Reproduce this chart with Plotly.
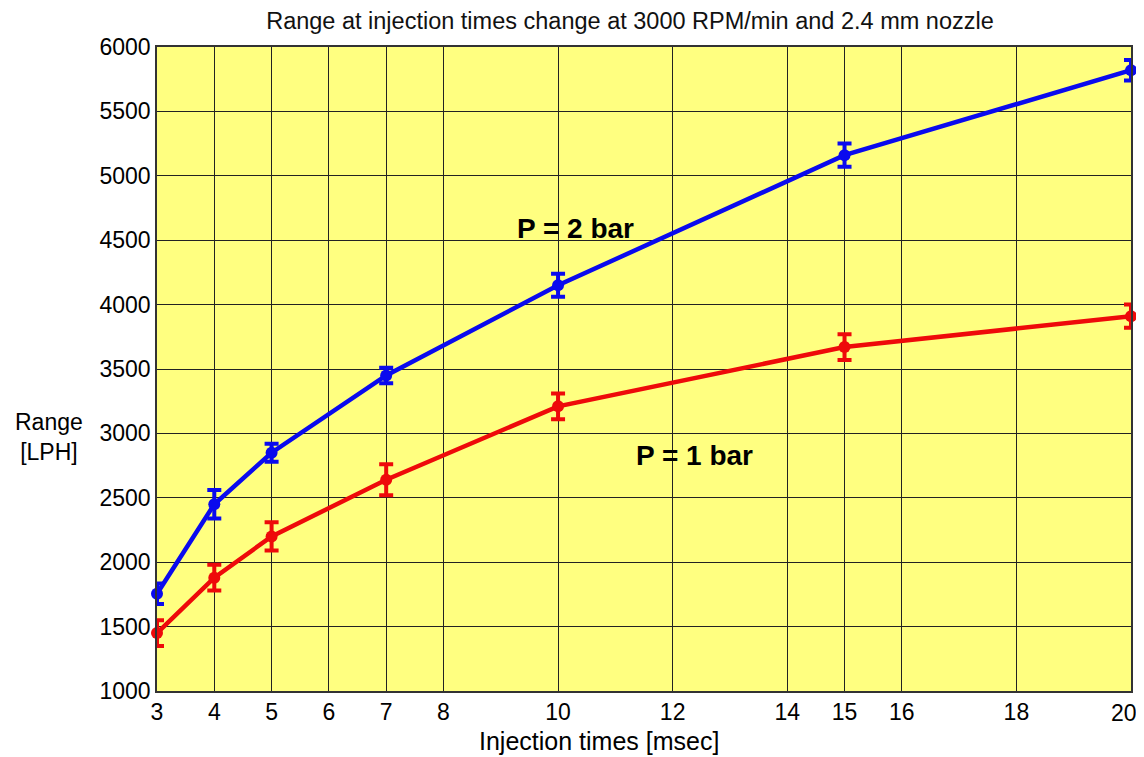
import plotly.graph_objects as go

x_ms = [3, 4, 5, 7, 10, 15, 20]
p2_range = [1755, 2450, 2850, 3450, 4150, 5160, 5820]
p2_err = [80, 110, 70, 60, 90, 90, 80]
p1_range = [1450, 1880, 2200, 2640, 3210, 3670, 3910]
p1_err = [100, 100, 110, 120, 100, 100, 90]
x_ticks = [3, 4, 5, 6, 7, 8, 10, 12, 14, 15, 16, 18, 20]
x_tick_labels = ["3", "4", "5", "6", "7", "8", "10", "12", "14", "15", "16", "18", "20"]
y_ticks = [1000, 1500, 2000, 2500, 3000, 3500, 4000, 4500, 5000, 5500, 6000]

FONT = "Arial, Liberation Sans, sans-serif"

fig = go.Figure()
for y, e, c in [(p2_range, p2_err, "#0a0aee"), (p1_range, p1_err, "#ee0a0a")]:
    fig.add_trace(go.Scatter(
        x=x_ms, y=y, mode="lines+markers",
        line=dict(color=c, width=4.5),
        marker=dict(color=c, size=12, symbol="circle"),
        error_y=dict(type="data", array=e, visible=True, color=c, thickness=4, width=7),
        showlegend=False, cliponaxis=False,
    ))

fig.add_annotation(x=10.30, y=4587, text="<b>P = 2 bar</b>", showarrow=False,
                   font=dict(family=FONT, size=28, color="black"))
fig.add_annotation(x=12.39, y=2832, text="<b>P = 1 bar</b>", showarrow=False,
                   font=dict(family=FONT, size=28, color="black"))
fig.add_annotation(xref="paper", yref="paper", x=-0.111, y=0.394, text="Range<br>[LPH]",
                   showarrow=False, align="center", xanchor="center", yanchor="middle",
                   font=dict(family=FONT, size=23, color="black"))
fig.add_annotation(xref="paper", yref="paper", x=0.454, y=-0.0776,
                   text="Injection times [msec]",
                   showarrow=False, xanchor="center", yanchor="middle",
                   font=dict(family=FONT, size=25, color="black"))
# last x tick label, nudged left so it stays inside the page like the reference
fig.add_annotation(xref="x", yref="paper", x=x_ticks[-1], y=-0.0342,
                   text=x_tick_labels[-1], showarrow=False,
                   xanchor="right", yanchor="middle", xshift=8,
                   font=dict(family=FONT, size=23, color="black"))

fig.update_layout(
    width=1136, height=749,
    margin=dict(l=149, r=13, t=39, b=66, autoexpand=False),
    paper_bgcolor="white",
    plot_bgcolor="#ffff80",
    font=dict(family=FONT, size=23, color="black"),
    title=dict(text="Range at injection times change at 3000 RPM/min and 2.4 mm nozzle",
               xref="paper", x=0.4856, xanchor="center", y=0.983, yanchor="middle",
               font=dict(size=23.5, color="#111111")),
)
fig.update_xaxes(range=[3, 20], tickvals=x_ticks[:-1], ticktext=x_tick_labels[:-1],
                 showgrid=True, gridcolor="#222222", gridwidth=1, zeroline=False,
                 showline=True, linecolor="#333333", linewidth=1.5, mirror=True,
                 ticks="", ticklen=0, tickfont=dict(size=23))
fig.update_yaxes(range=[1000, 6000], tickvals=y_ticks,
                 showgrid=True, gridcolor="#222222", gridwidth=1, zeroline=False,
                 showline=True, linecolor="#333333", linewidth=1.5, mirror=True,
                 ticks="", ticklen=0, tickfont=dict(size=23))

fig.write_html("out.html")
